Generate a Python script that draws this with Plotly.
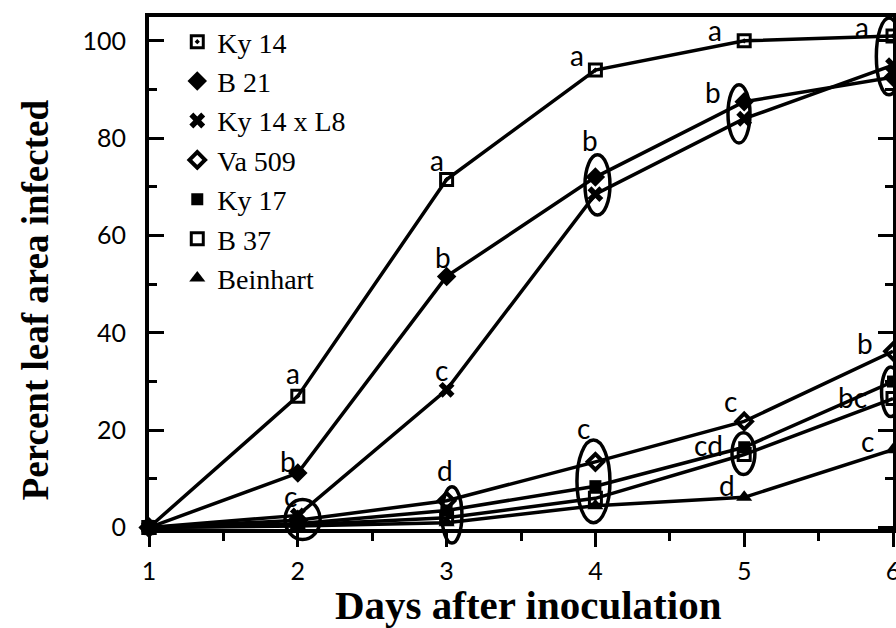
import plotly.graph_objects as go

# ---------------- data ----------------
days = [1, 2, 3, 4, 5, 6]

ky14 = [0, 27.0, 71.5, 94.0, 100.0, 101.0]
b21 = [0, 11.2, 51.6, 72.0, 87.5, 92.5]
ky14_l8 = [0, 2.5, 28.3, 68.5, 84.0, 95.0]
va509 = [0, 1.5, 5.5, 13.5, 21.8, 36.2]
ky17 = [0, 0.8, 3.5, 8.5, 16.5, 30.0]
b37 = [0, 0.5, 2.0, 6.0, 15.0, 26.5]
beinhart = [0, 0.3, 1.0, 4.5, 6.2, 16.0]

series_names = ["Ky 14", "B 21", "Ky 14 x L8", "Va 509", "Ky 17", "B 37", "Beinhart"]
series_values = [ky14, b21, ky14_l8, va509, ky17, b37, beinhart]

x_tick_vals = [1, 2, 3, 4, 5, 6]
x_tick_text = ["1", "2", "3", "4", "5", "6"]
y_tick_vals = [0, 20, 40, 60, 80, 100]
y_tick_text = ["0", "20", "40", "60", "80", "100"]

# significance letters (day, percent, text)
letter_day = [1.968, 1.934, 1.948,
              2.935, 2.976, 2.969, 2.989,
              3.876, 3.964, 3.917,
              4.804, 4.790, 4.905, 4.757, 4.884,
              5.790, 5.810, 5.730, 5.830]
letter_pct = [31.8, 13.6, 6.4,
              75.6, 55.6, 32.4, 11.9,
              97.1, 79.7, 20.5,
              102.3, 89.5, 25.9, 17.0, 8.8,
              102.9, 38.0, 26.9, 17.7]
letter_text = ["a", "b", "c",
               "a", "b", "c", "d",
               "a", "b", "c",
               "a", "b", "c", "cd", "d",
               "a", "b", "bc", "c"]

# grouping ellipses (centre day, centre percent, half width in days, half height in percent)
oval_day = [2.032, 3.036, 4.014, 3.987, 4.965, 4.995, 5.973, 5.985]
oval_pct = [1.64, 2.6, 70.4, 9.5, 85.0, 15.2, 96.8, 27.9]
oval_half_day = [0.118, 0.067, 0.084, 0.111, 0.074, 0.077, 0.085, 0.062]
oval_half_pct = [4.1, 5.8, 6.2, 8.5, 6.0, 4.3, 7.9, 5.1]

# ---------------- styles ----------------
marker_styles = [
    dict(symbol="square-open-dot", size=12, line=dict(width=3, color="black")),
    dict(symbol="diamond", size=15, line=dict(width=0)),
    dict(symbol="x", size=14, line=dict(width=0)),
    dict(symbol="diamond-open", size=12, line=dict(width=4, color="black")),
    dict(symbol="square", size=12, line=dict(width=0)),
    dict(symbol="square-open", size=12, line=dict(width=3, color="black")),
    dict(symbol="triangle-up", size=14, line=dict(width=0)),
]

X_RANGE = [1.0, 6.0]
Y_RANGE = [-0.3, 104.9]

fig = go.Figure()

for name, vals, ms in zip(series_names, series_values, marker_styles):
    fig.add_trace(go.Scatter(
        x=days, y=vals, mode="lines+markers", name=name, showlegend=False,
        line=dict(color="black", width=3.5),
        marker=dict(color="black", **ms),
        cliponaxis=False,
    ))

# legend-only entries (markers without lines)
for name, ms in zip(series_names, marker_styles):
    fig.add_trace(go.Scatter(
        x=[None], y=[None], mode="markers", name=name, showlegend=True,
        marker=dict(color="black", **ms),
    ))

letter_font = dict(family="Lato", size=28, color="black")
annotations = []
for d, p, t in zip(letter_day, letter_pct, letter_text):
    annotations.append(dict(x=d, y=p, xref="x", yref="y", text=t, showarrow=False,
                            font=letter_font, xanchor="center", yanchor="middle"))

# axis titles
annotations.append(dict(x=0.51, y=-0.148, xref="paper", yref="paper",
                        text="<b>Days after inoculation</b>", showarrow=False,
                        font=dict(family="Liberation Serif", size=41, color="black"),
                        xanchor="center", yanchor="middle"))
annotations.append(dict(x=-0.153, y=0.447, xref="paper", yref="paper",
                        text="<b>Percent leaf area infected</b>", showarrow=False,
                        textangle=-90,
                        font=dict(family="Liberation Serif", size=37, color="black"),
                        xanchor="center", yanchor="middle"))

shapes = []
xs = X_RANGE[1] - X_RANGE[0]
ys = Y_RANGE[1] - Y_RANGE[0]
for d, p, hd, hp in zip(oval_day, oval_pct, oval_half_day, oval_half_pct):
    shapes.append(dict(
        type="circle", xref="x domain", yref="y domain",
        x0=(d - hd - X_RANGE[0]) / xs, x1=(d + hd - X_RANGE[0]) / xs,
        y0=(p - hp - Y_RANGE[0]) / ys, y1=(p + hp - Y_RANGE[0]) / ys,
        line=dict(color="black", width=3.5), fillcolor="rgba(0,0,0,0)", layer="above",
    ))

tick_font = dict(family="Lato", size=25, color="black")

fig.update_layout(
    width=896, height=628,
    margin=dict(l=149, r=3, t=17, b=99, autoexpand=False),
    plot_bgcolor="white", paper_bgcolor="white",
    showlegend=True,
    legend=dict(x=0.038, y=1.0, xanchor="left", yanchor="top",
                font=dict(family="Liberation Serif", size=28, color="black"),
                bgcolor="rgba(0,0,0,0)", borderwidth=0, itemsizing="trace",
                tracegroupgap=0),
    annotations=annotations,
    shapes=shapes,
    xaxis=dict(range=X_RANGE, tickvals=x_tick_vals, ticktext=x_tick_text,
               showline=True, linecolor="black", linewidth=4, mirror=True,
               ticks="outside", ticklen=14, tickwidth=3, tickcolor="black",
               minor=dict(dtick=0.5, tick0=1, ticks="outside", ticklen=8,
                          tickwidth=3, tickcolor="black"),
               showgrid=False, zeroline=False, tickfont=tick_font,
               ticklabelstandoff=3, ticklabeloverflow="allow", automargin=False),
    yaxis=dict(range=Y_RANGE, tickvals=y_tick_vals, ticktext=y_tick_text,
               showline=True, linecolor="black", linewidth=4, mirror="ticks",
               ticks="inside", ticklen=15, tickwidth=3, tickcolor="black",
               minor=dict(dtick=10, tick0=0, ticks="inside", ticklen=8,
                          tickwidth=3, tickcolor="black"),
               showgrid=False, zeroline=False, tickfont=tick_font,
               ticklabelstandoff=14, automargin=False),
)

fig.write_html("out.html")
